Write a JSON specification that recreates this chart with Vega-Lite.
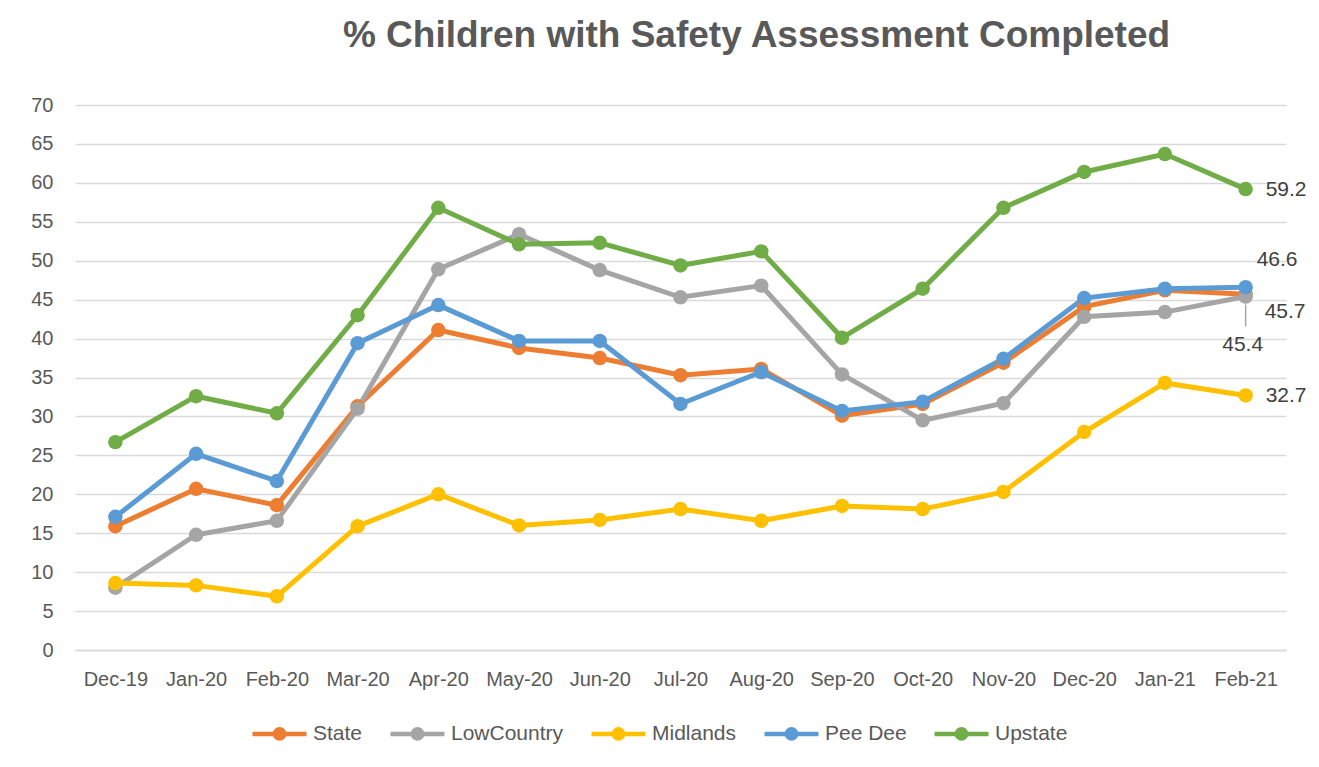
{
  "$schema": "https://vega.github.io/schema/vega-lite/v6.json",
  "width": 1211,
  "height": 545,
  "autosize": {"type": "none"},
  "padding": {"left": 75, "top": 105, "right": 33, "bottom": 117},
  "background": "white",
  "config": {
    "view": {"stroke": null},
    "font": "Liberation Sans",
    "axis": {"labelFont": "Liberation Sans", "labelColor": "#595959"},
    "legend": {"labelFont": "Liberation Sans"}
  },
  "title": {
    "text": "% Children with Safety Assessment Completed",
    "font": "Liberation Sans",
    "fontSize": 37,
    "fontWeight": "bold",
    "color": "#595959",
    "anchor": "middle",
    "dx": 76,
    "offset": 40
  },
  "data": {
    "values": [
      {"month": "Dec-19", "series": "State", "value": 15.9},
      {"month": "Jan-20", "series": "State", "value": 20.7},
      {"month": "Feb-20", "series": "State", "value": 18.6},
      {"month": "Mar-20", "series": "State", "value": 31.3},
      {"month": "Apr-20", "series": "State", "value": 41.1},
      {"month": "May-20", "series": "State", "value": 38.8},
      {"month": "Jun-20", "series": "State", "value": 37.5},
      {"month": "Jul-20", "series": "State", "value": 35.3},
      {"month": "Aug-20", "series": "State", "value": 36.1},
      {"month": "Sep-20", "series": "State", "value": 30.1},
      {"month": "Oct-20", "series": "State", "value": 31.6},
      {"month": "Nov-20", "series": "State", "value": 36.9},
      {"month": "Dec-20", "series": "State", "value": 44.1},
      {"month": "Jan-21", "series": "State", "value": 46.2},
      {"month": "Feb-21", "series": "State", "value": 45.7},
      {"month": "Dec-19", "series": "LowCountry", "value": 8.0},
      {"month": "Jan-20", "series": "LowCountry", "value": 14.8},
      {"month": "Feb-20", "series": "LowCountry", "value": 16.6},
      {"month": "Mar-20", "series": "LowCountry", "value": 31.0},
      {"month": "Apr-20", "series": "LowCountry", "value": 48.9},
      {"month": "May-20", "series": "LowCountry", "value": 53.4},
      {"month": "Jun-20", "series": "LowCountry", "value": 48.8},
      {"month": "Jul-20", "series": "LowCountry", "value": 45.3},
      {"month": "Aug-20", "series": "LowCountry", "value": 46.8},
      {"month": "Sep-20", "series": "LowCountry", "value": 35.4},
      {"month": "Oct-20", "series": "LowCountry", "value": 29.5},
      {"month": "Nov-20", "series": "LowCountry", "value": 31.7},
      {"month": "Dec-20", "series": "LowCountry", "value": 42.8},
      {"month": "Jan-21", "series": "LowCountry", "value": 43.4},
      {"month": "Feb-21", "series": "LowCountry", "value": 45.4},
      {"month": "Dec-19", "series": "Midlands", "value": 8.6},
      {"month": "Jan-20", "series": "Midlands", "value": 8.3},
      {"month": "Feb-20", "series": "Midlands", "value": 6.9},
      {"month": "Mar-20", "series": "Midlands", "value": 15.9},
      {"month": "Apr-20", "series": "Midlands", "value": 20.0},
      {"month": "May-20", "series": "Midlands", "value": 16.0},
      {"month": "Jun-20", "series": "Midlands", "value": 16.7},
      {"month": "Jul-20", "series": "Midlands", "value": 18.1},
      {"month": "Aug-20", "series": "Midlands", "value": 16.6},
      {"month": "Sep-20", "series": "Midlands", "value": 18.5},
      {"month": "Oct-20", "series": "Midlands", "value": 18.1},
      {"month": "Nov-20", "series": "Midlands", "value": 20.3},
      {"month": "Dec-20", "series": "Midlands", "value": 28.0},
      {"month": "Jan-21", "series": "Midlands", "value": 34.3},
      {"month": "Feb-21", "series": "Midlands", "value": 32.7},
      {"month": "Dec-19", "series": "Pee Dee", "value": 17.1},
      {"month": "Jan-20", "series": "Pee Dee", "value": 25.2},
      {"month": "Feb-20", "series": "Pee Dee", "value": 21.7},
      {"month": "Mar-20", "series": "Pee Dee", "value": 39.4},
      {"month": "Apr-20", "series": "Pee Dee", "value": 44.3},
      {"month": "May-20", "series": "Pee Dee", "value": 39.7},
      {"month": "Jun-20", "series": "Pee Dee", "value": 39.7},
      {"month": "Jul-20", "series": "Pee Dee", "value": 31.6},
      {"month": "Aug-20", "series": "Pee Dee", "value": 35.7},
      {"month": "Sep-20", "series": "Pee Dee", "value": 30.7},
      {"month": "Oct-20", "series": "Pee Dee", "value": 31.9},
      {"month": "Nov-20", "series": "Pee Dee", "value": 37.4},
      {"month": "Dec-20", "series": "Pee Dee", "value": 45.2},
      {"month": "Jan-21", "series": "Pee Dee", "value": 46.4},
      {"month": "Feb-21", "series": "Pee Dee", "value": 46.6},
      {"month": "Dec-19", "series": "Upstate", "value": 26.7},
      {"month": "Jan-20", "series": "Upstate", "value": 32.6},
      {"month": "Feb-20", "series": "Upstate", "value": 30.4},
      {"month": "Mar-20", "series": "Upstate", "value": 43.0},
      {"month": "Apr-20", "series": "Upstate", "value": 56.8},
      {"month": "May-20", "series": "Upstate", "value": 52.1},
      {"month": "Jun-20", "series": "Upstate", "value": 52.3},
      {"month": "Jul-20", "series": "Upstate", "value": 49.4},
      {"month": "Aug-20", "series": "Upstate", "value": 51.2},
      {"month": "Sep-20", "series": "Upstate", "value": 40.1},
      {"month": "Oct-20", "series": "Upstate", "value": 46.4},
      {"month": "Nov-20", "series": "Upstate", "value": 56.8},
      {"month": "Dec-20", "series": "Upstate", "value": 61.4},
      {"month": "Jan-21", "series": "Upstate", "value": 63.7},
      {"month": "Feb-21", "series": "Upstate", "value": 59.2}
    ]
  },
  "encoding": {
    "x": {
      "field": "month",
      "type": "ordinal",
      "sort": null,
      "scale": {"type": "point", "padding": 0.5},
      "axis": {
        "title": null,
        "labelAngle": 0,
        "labelFontSize": 20,
        "labelPadding": 19,
        "ticks": false,
        "domainColor": "#D9D9D9",
        "domainWidth": 1.3,
        "grid": false
      }
    },
    "y": {
      "field": "value",
      "type": "quantitative",
      "scale": {"domain": [0, 70], "nice": false},
      "axis": {
        "title": null,
        "values": [0, 5, 10, 15, 20, 25, 30, 35, 40, 45, 50, 55, 60, 65, 70],
        "labelFontSize": 20,
        "labelPadding": 22,
        "ticks": false,
        "domain": false,
        "gridColor": "#D9D9D9",
        "gridWidth": 1.3
      }
    }
  },
  "layer": [
    {
      "mark": {"type": "line", "strokeWidth": 5, "point": {"filled": true, "size": 210, "opacity": 1}},
      "encoding": {
        "color": {
          "field": "series",
          "type": "nominal",
          "scale": {
            "domain": ["State", "LowCountry", "Midlands", "Pee Dee", "Upstate"],
            "range": ["#ED7D31", "#A5A5A5", "#FFC000", "#5B9BD5", "#70AD47"]
          },
          "legend": {
            "title": null,
            "orient": "none",
            "direction": "horizontal",
            "legendX": 175,
            "legendY": 599,
            "symbolType": "M-1,0L1,0M-0.17,0A0.17,0.17,0,1,0,0.17,0A0.17,0.17,0,1,0,-0.17,0Z",
            "symbolSize": 2916,
            "symbolStrokeWidth": 4.5,
            "symbolOpacity": 1,
            "labelFontSize": 21,
            "labelColor": "#595959",
            "labelOffset": 4,
            "columnPadding": 18,
            "labelLimit": 300
          }
        }
      }
    },
    {
      "transform": [{"filter": "datum.series == 'LowCountry' && datum.month == 'Feb-21'"}],
      "mark": {"type": "rule", "color": "#A5A5A5", "strokeWidth": 1.5, "yOffset": 8, "y2Offset": 30},
      "encoding": {"y2": {"field": "value"}}
    },
    {
      "transform": [{"filter": "datum.series == 'Upstate' && datum.month == 'Feb-21'"}],
      "mark": {"type": "text", "align": "left", "baseline": "middle", "dx": 20, "dy": 1, "fontSize": 21, "color": "#404040"},
      "encoding": {"text": {"field": "value", "format": ".1f"}}
    },
    {
      "transform": [{"filter": "datum.series == 'Pee Dee' && datum.month == 'Feb-21'"}],
      "mark": {"type": "text", "align": "left", "baseline": "middle", "dx": 11, "dy": -27, "fontSize": 21, "color": "#404040"},
      "encoding": {"text": {"field": "value", "format": ".1f"}}
    },
    {
      "transform": [{"filter": "datum.series == 'State' && datum.month == 'Feb-21'"}],
      "mark": {"type": "text", "align": "left", "baseline": "middle", "dx": 19, "dy": 18, "fontSize": 21, "color": "#404040"},
      "encoding": {"text": {"field": "value", "format": ".1f"}}
    },
    {
      "transform": [{"filter": "datum.series == 'LowCountry' && datum.month == 'Feb-21'"}],
      "mark": {"type": "text", "align": "center", "baseline": "middle", "dx": -3, "dy": 48, "fontSize": 21, "color": "#404040"},
      "encoding": {"text": {"field": "value", "format": ".1f"}}
    },
    {
      "transform": [{"filter": "datum.series == 'Midlands' && datum.month == 'Feb-21'"}],
      "mark": {"type": "text", "align": "left", "baseline": "middle", "dx": 20, "dy": 1, "fontSize": 21, "color": "#404040"},
      "encoding": {"text": {"field": "value", "format": ".1f"}}
    }
  ]
}
